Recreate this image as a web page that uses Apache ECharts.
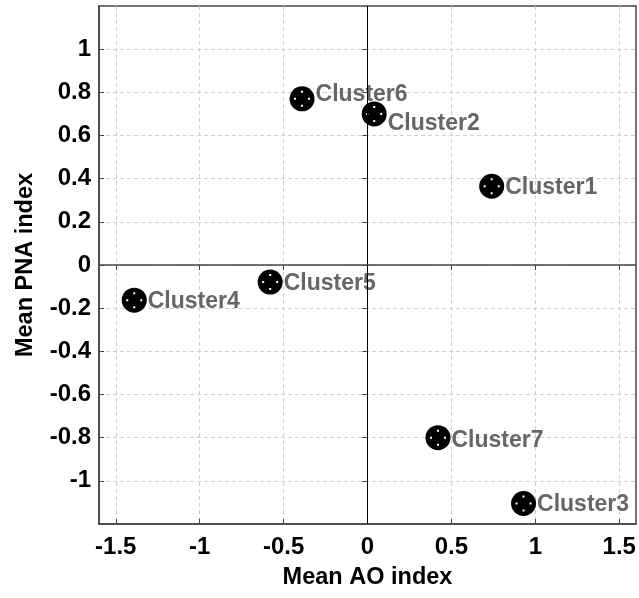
<!DOCTYPE html>
<html>
<head>
<meta charset="utf-8">
<title>Cluster mean AO / PNA index</title>
<script src="https://cdn.jsdelivr.net/npm/echarts@6/dist/echarts.min.js"></script>
<style>
  html, body { margin: 0; padding: 0; background: #fff; }
  #chart { width: 639px; height: 598px; }
</style>
</head>
<body>
<div id="chart"></div>
<script>
// Cluster centroids in (AO, PNA) index space
const clusterNames = ['Cluster1', 'Cluster2', 'Cluster3', 'Cluster4', 'Cluster5', 'Cluster6', 'Cluster7'];
const meanAO  = [0.74, 0.04, 0.93, -1.39, -0.58, -0.39, 0.42];
const meanPNA = [0.365, 0.70, -1.105, -0.163, -0.079, 0.77, -0.80];

const xTicks = [-1.5, -1, -0.5, 0, 0.5, 1, 1.5];
const yTicks = [-1, -0.8, -0.6, -0.4, -0.2, 0, 0.2, 0.4, 0.6, 0.8, 1];

// per-label nudges so neighbouring names don't collide
const labelShift = { Cluster2: [0, 10], Cluster6: [0, -4], Cluster7: [0, 3] };

const points = clusterNames.map((n, i) => ({
  name: n,
  value: [meanAO[i], meanPNA[i]],
  label: { offset: labelShift[n] || [0, 1.5] }
}));

const FONT = '"Liberation Sans", Arial, sans-serif';

const tickStyle = { inside: true, length: 5, lineStyle: { color: '#444', width: 1 } };
const gridLine = { show: true, lineStyle: { color: '#cfcfcf', type: [4, 3], width: 1 } };

const chart = echarts.init(document.getElementById('chart'), null, { renderer: 'canvas' });
chart.setOption({
  animation: false,
  backgroundColor: '#fff',
  grid: {
    left: 99, right: 3, top: 6, bottom: 74,
    show: true, borderColor: '#444', borderWidth: 1.5,
    containLabel: false, outerBoundsMode: 'none'
  },
  xAxis: [{
    type: 'value', min: -1.6, max: 1.6,
    position: 'bottom',
    name: 'Mean AO index', nameLocation: 'middle', nameGap: 42,
    nameTextStyle: { fontFamily: FONT, fontWeight: 'bold', fontSize: 23.5, color: '#000' },
    axisLine: { show: true, onZero: false, lineStyle: { color: '#444', width: 1.5 } },
    axisTick: Object.assign({ customValues: xTicks }, tickStyle),
    axisLabel: {
      margin: 11, fontFamily: FONT, fontWeight: 'bold', fontSize: 24, color: '#000',
      customValues: xTicks, formatter: v => String(v)
    },
    splitLine: gridLine
  }, {
    type: 'value', min: -1.6, max: 1.6,
    position: 'top',
    axisLine: { show: false },
    axisTick: Object.assign({ customValues: xTicks }, tickStyle),
    axisLabel: { show: false },
    splitLine: { show: false }
  }],
  yAxis: [{
    type: 'value', min: -1.2, max: 1.2,
    position: 'left',
    name: 'Mean PNA index', nameLocation: 'middle', nameGap: 61,
    nameTextStyle: { fontFamily: FONT, fontWeight: 'bold', fontSize: 23.5, color: '#000' },
    axisLine: { show: true, onZero: false, lineStyle: { color: '#444', width: 1.5 } },
    axisTick: Object.assign({ customValues: yTicks }, tickStyle),
    axisLabel: {
      margin: 8, fontFamily: FONT, fontWeight: 'bold', fontSize: 24, color: '#000',
      customValues: yTicks, formatter: v => String(Math.round(v * 10) / 10)
    },
    splitLine: gridLine
  }, {
    type: 'value', min: -1.2, max: 1.2,
    position: 'right',
    axisLine: { show: false },
    axisTick: Object.assign({ customValues: yTicks }, tickStyle),
    axisLabel: { show: false },
    splitLine: { show: false }
  }],
  series: [{
    type: 'scatter',
    xAxisIndex: 0, yAxisIndex: 0,
    data: points,
    symbol: 'circle',
    symbolSize: 25,
    itemStyle: { color: '#000', opacity: 1 },
    label: {
      show: true, position: 'right', distance: 1,
      formatter: p => p.name,
      fontFamily: FONT, fontWeight: 'bold', fontSize: 23, color: '#666'
    },
    markLine: {
      silent: true, symbol: 'none', animation: false,
      label: { show: false },
      lineStyle: { type: 'solid', width: 1 },
      data: [
        { xAxis: 0, lineStyle: { color: '#000', width: 1 } },
        { yAxis: 0, lineStyle: { color: '#444', width: 1.5 } }
      ]
    },
    z: 3
  }, {
    // small white cross-dots inside each marker
    type: 'scatter',
    xAxisIndex: 0, yAxisIndex: 0,
    data: points.map(p => ({ name: p.name, value: p.value })),
    symbol: 'path://M-1,-8h2v2h-2zM-1,6h2v2h-2zM-8,-1h2v2h-2zM6,-1h2v2h-2z',
    symbolSize: 16,
    itemStyle: { color: '#fff', opacity: 1 },
    label: { show: false },
    silent: true,
    z: 4
  }]
});
</script>
</body>
</html>
